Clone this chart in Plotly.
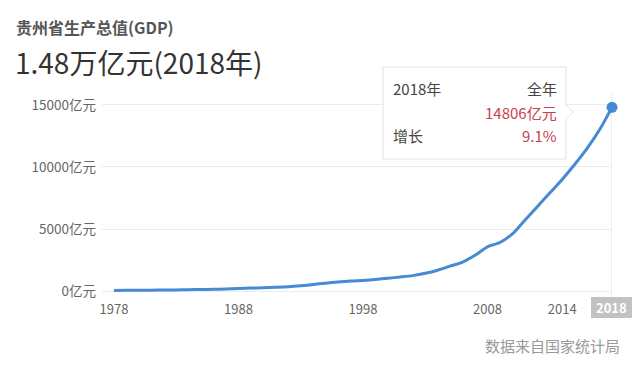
import plotly.graph_objects as go

years = list(range(1978, 2019))
gdp = [50, 55, 60, 68, 79, 87, 108, 124, 140, 166,
       212, 236, 260, 296, 340, 418, 521, 636, 723, 806,
       858, 938, 1030, 1133, 1243, 1426, 1678, 2005, 2339, 2884,
       3562, 3913, 4602, 5702, 6802, 7900, 9000, 10200, 11500, 13000,
       14806]
x_ticks = [1978, 1988, 1998, 2008, 2014]
y_ticks = [0, 5000, 10000, 15000]
y_tick_text = [f"{v}亿元" for v in y_ticks]
title = "贵州省生产总值(GDP)"
headline = "1.48万亿元(2018年)"
tip_year = "2018年"
tip_period = "全年"
tip_value = "14806亿元"
tip_growth_label = "增长"
tip_growth = "9.1%"
source = "数据来自国家统计局"

# page has an 8px body margin; work in reference-page pixels and shift
OFF = 8
W, H = 640 - OFF, 369 - OFF
L, R, T, B = 102 - OFF, 28, 100 - OFF, 74
PW, PH = W - L - R, H - T - B

def px(x):
    return (x - OFF - L) / PW

def py(y):
    return (H - B - (y - OFF)) / PH

FONT = "Noto Sans CJK SC, Microsoft YaHei, sans-serif"
LINE = "#4689d4"

fig = go.Figure()
fig.add_trace(go.Scatter(x=years, y=gdp, mode="lines",
                         line=dict(color=LINE, width=3, shape="spline", smoothing=0.6),
                         hoverinfo="skip", showlegend=False, cliponaxis=False))
fig.add_trace(go.Scatter(x=[years[-1]], y=[gdp[-1]], mode="markers",
                         marker=dict(color=LINE, size=11),
                         hoverinfo="skip", showlegend=False, cliponaxis=False))

shapes = []
# card right border
shapes.append(dict(type="line", xref="paper", yref="paper",
                   x0=px(633), x1=px(633), y0=py(369), y1=py(8),
                   line=dict(color="#e3e3e3", width=1), layer="below"))
# crosshair
shapes.append(dict(type="line", xref="x", yref="paper", x0=years[-1], x1=years[-1],
                   y0=py(298), y1=py(92), line=dict(color="#dcdcdc", width=1), layer="below"))
# tooltip box with arrow
bx0, bx1, by0, by1 = px(383), px(566), py(159), py(67)
ax_tip = px(573)
ay_mid, ay_a, ay_b = py(112), py(105), py(119)
path = (f"M {bx0},{by0} L {bx1},{by0} L {bx1},{ay_b} L {ax_tip},{ay_mid} L {bx1},{ay_a} "
        f"L {bx1},{by1} L {bx0},{by1} Z")
shapes.append(dict(type="path", xref="paper", yref="paper", path=path,
                   fillcolor="white", line=dict(color="#e2e2e2", width=1)))
# 2018 label box
shapes.append(dict(type="rect", xref="paper", yref="paper",
                   x0=px(591), x1=px(632), y0=py(318), y1=py(297),
                   fillcolor="#c2c2c2", line=dict(width=0)))

ann = []
def text(x, y, t, size, color, xanchor="left", bold=False):
    ann.append(dict(xref="paper", yref="paper", x=px(x), y=py(y), text=(f"<b>{t}</b>" if bold else t),
                    showarrow=False, xanchor=xanchor, yanchor="middle",
                    font=dict(size=size, color=color, family=FONT)))

text(14, 27, title, 16, "#555555", bold=True)
text(13, 62, headline, 28, "#333333")
text(391, 88, tip_year, 15, "#444444")
text(559, 88, tip_period, 15, "#444444", xanchor="right")
text(559, 112, tip_value, 15, "#c8434f", xanchor="right")
text(391, 135, tip_growth_label, 15, "#444444")
text(559, 135, tip_growth, 15, "#c8434f", xanchor="right")
text(611.5, 307.5, str(years[-1]), 13, "white", xanchor="center", bold=True)
text(622, 345, source, 15, "#999999", xanchor="right")

fig.update_layout(
    width=W, height=H,
    margin=dict(l=L, r=R, t=T, b=B),
    paper_bgcolor="white", plot_bgcolor="white",
    shapes=shapes, annotations=ann,
    font=dict(family=FONT, size=13, color="#666666"),
    showlegend=False,
    xaxis=dict(range=[1977.04, 2018], tickvals=x_ticks, ticktext=[str(v) for v in x_ticks],
               showgrid=False, zeroline=False, showline=False, ticks="",
               ticklabelstandoff=5, tickfont=dict(size=13, color="#666666"), fixedrange=True),
    yaxis=dict(range=[-320, 15400], tickvals=y_ticks, ticktext=y_tick_text,
               showgrid=True, gridcolor="#ececec", gridwidth=1, zeroline=False, showline=False,
               ticks="", ticklabelstandoff=5, tickfont=dict(size=13.5, color="#666666"), fixedrange=True),
)

fig.write_html("out.html")
